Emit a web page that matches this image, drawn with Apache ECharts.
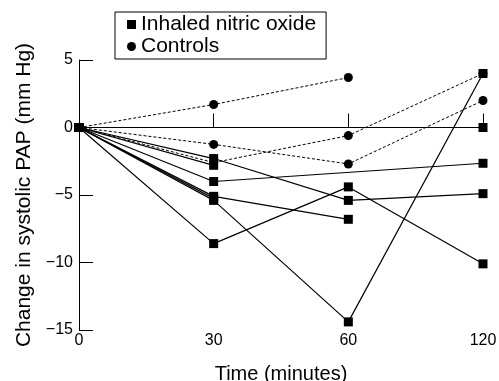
<!DOCTYPE html>
<html>
<head>
<meta charset="utf-8">
<script src="https://cdn.jsdelivr.net/npm/echarts@6/dist/echarts.min.js"></script>
<style>
html,body{margin:0;padding:0;background:#fff;}
#chart{width:499px;height:381px;}
</style>
</head>
<body>
<div id="chart"></div>
<script>
// Time points (minutes)
var times = ['0', '30', '60', '120'];
// Y axis ticks
var yTicks = [-15, -10, -5, 0, 5];

// Inhaled nitric oxide patients (change in systolic PAP, mm Hg)
var no1 = [0, -2.3, -5.4, -4.9];
var no2 = [0, -2.8, null, null];
var no3 = [0, -4.0, null, -2.65];
var no4 = [0, -5.1, -6.8, null];
var no5 = [0, -5.4, -14.4, 4.0];
var no6 = [0, -5.25, null, null];
var no7 = [0, -8.6, -4.4, -10.1];
var no8 = [0, null, null, 0];

// Controls
var ctrl1 = [0, 1.7, 3.7, null];
var ctrl2 = [0, -1.25, -2.7, 2.0];
var ctrl3 = [0, -2.6, -0.6, 4.0];

var noSeries = [no1, no2, no3, no4, no5, no6, no7, no8];
var ctrlSeries = [ctrl1, ctrl2, ctrl3];

var FONT = 'Liberation Sans, Arial, sans-serif';
var series = [];
ctrlSeries.forEach(function (d) {
  series.push({
    name: 'Controls', type: 'line', data: d, connectNulls: true,
    symbol: 'circle', symbolSize: 9, showAllSymbol: true,
    itemStyle: {color: '#000'},
    lineStyle: {color: '#000', width: 1, type: [3, 2]},
    z: 2, animation: false
  });
});
noSeries.forEach(function (d) {
  series.push({
    name: 'Inhaled nitric oxide', type: 'line', data: d, connectNulls: true,
    symbol: 'rect', symbolSize: 9, showAllSymbol: true,
    itemStyle: {color: '#000'},
    lineStyle: {color: '#000', width: 1.2},
    z: 3, animation: false
  });
});

var chart = echarts.init(document.getElementById('chart'));
chart.setOption({
  backgroundColor: '#fff',
  animation: false,
  textStyle: {fontFamily: FONT, color: '#000'},
  legend: {
    data: [
      {name: 'Inhaled nitric oxide', icon: 'rect'},
      {name: 'Controls', icon: 'circle'}
    ],
    orient: 'vertical',
    left: 115, top: 12,
    padding: [2, 10, 2, 12],
    itemGap: 1,
    itemWidth: 9, itemHeight: 9,
    borderColor: '#000', borderWidth: 1,
    selectedMode: false,
    textStyle: {fontFamily: FONT, fontSize: 21, color: '#000', lineHeight: 20}
  },
  grid: {left: 79, right: 16, top: 60, bottom: 51, containLabel: false, outerBoundsMode: 'none'},
  xAxis: {
    type: 'category', data: times, boundaryGap: false,
    name: 'Time (minutes)', nameLocation: 'middle', nameGap: 34,
    nameTextStyle: {fontFamily: FONT, fontSize: 20, color: '#000'},
    axisLine: {lineStyle: {color: '#000', width: 1}},
    axisTick: {inside: true, length: 14, lineStyle: {color: '#000'}},
    axisLabel: {fontFamily: FONT, fontSize: 16, color: '#000', margin: 3},
    splitLine: {show: false}
  },
  yAxis: {
    type: 'value', min: yTicks[0], max: yTicks[yTicks.length - 1], interval: 5,
    name: 'Change in systolic PAP (mm Hg)', nameLocation: 'middle', nameGap: 43,
    nameTextStyle: {fontFamily: FONT, fontSize: 21, color: '#000'},
    axisLine: {show: true, lineStyle: {color: '#000', width: 1}},
    axisTick: {show: true, inside: true, length: 14, lineStyle: {color: '#000'}},
    axisLabel: {fontFamily: FONT, fontSize: 16, color: '#000', margin: 6,
      formatter: function (v) { return String(v).replace('-', '\u2212'); }},
    splitLine: {show: false}
  },
  series: series
});
</script>
</body>
</html>
